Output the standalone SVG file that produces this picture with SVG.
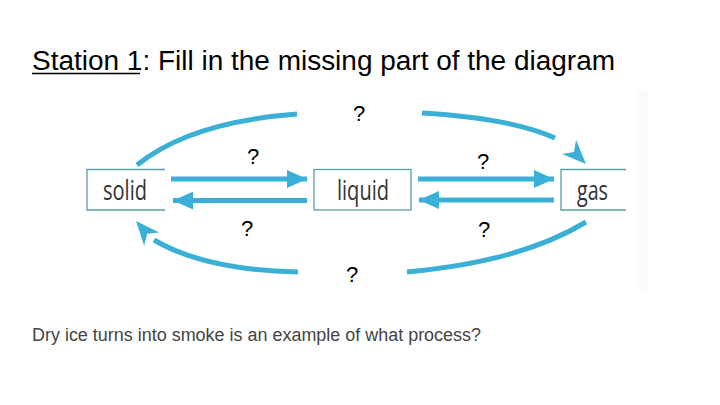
<svg xmlns="http://www.w3.org/2000/svg" width="720" height="405" viewBox="0 0 720 405">
<style>
.title{font-family:"Liberation Sans",Arial,sans-serif;font-size:27px;fill:#000}
.q{font-family:"Liberation Sans",Arial,sans-serif;font-size:22px;fill:#000;text-anchor:middle}
.lbl{font-family:"Open Sans","Noto Sans",sans-serif;font-size:28px;fill:#333}
.box{fill:none;stroke:#5b9ea6;stroke-width:1.3}
.arr{fill:none;stroke:#3ab0d6;stroke-width:5}
.cur{fill:none;stroke:#3ab0d6;stroke-width:5;stroke-linecap:butt}
.q2{font-family:"Liberation Sans",Arial,sans-serif;font-size:17.5px;fill:#444}
</style>
<defs>
<marker id="ah" markerUnits="userSpaceOnUse" markerWidth="20" markerHeight="18" viewBox="-18 -8 18 16" refX="0" refY="0" orient="auto">
<path d="M0,0 L-18,-8 L-18,8 Z" fill="#3ab0d6"/>
</marker>
<path id="barb" d="M0,0 L-24,-10 L-17,0 L-24,10 Z" fill="#3ab0d6"/>
</defs>
<rect width="720" height="405" fill="#fff"/>
<rect x="636" y="90" width="12" height="200" fill="#fbfbfb"/>
<text class="title" x="32" y="70" textLength="583" lengthAdjust="spacingAndGlyphs">Station 1: Fill in the missing part of the diagram</text>
<line x1="32" y1="73.5" x2="140" y2="73.5" stroke="#000" stroke-width="1.5"/>
<g id="solid">
<path class="box" d="M165,169.5 H87 V210 H165"/>
<text class="lbl" x="103" y="200" textLength="44" lengthAdjust="spacingAndGlyphs">solid</text>
</g>
<g id="liquid">
<rect class="box" x="314" y="169.5" width="97" height="40.5"/>
<text class="lbl" x="337" y="200" textLength="52" lengthAdjust="spacingAndGlyphs">liquid</text>
</g>
<g id="gas">
<path class="box" d="M626,169.5 H561 V210 H626"/>
<text class="lbl" x="577" y="200" textLength="31" lengthAdjust="spacingAndGlyphs">gas</text>
</g>
<g id="connectors">
<line class="arr" x1="171" y1="179" x2="307" y2="179" marker-end="url(#ah)"/>
<line class="arr" x1="307" y1="200.5" x2="173" y2="200.5" marker-end="url(#ah)"/>
<line class="arr" x1="418" y1="179" x2="554" y2="179" marker-end="url(#ah)"/>
<line class="arr" x1="554" y1="200" x2="419" y2="200" marker-end="url(#ah)"/>
<path class="cur" d="M137,165 Q190,122 297,114"/>
<path class="cur" d="M422,113 Q510,118 555,138"/>
<use href="#barb" transform="translate(586,164) rotate(45)"/>
<path class="cur" d="M298,272 Q205,270 154,240"/>
<use href="#barb" transform="translate(136,221) rotate(229)"/>
<path class="cur" d="M407,272 Q520,262 586,222"/>
</g>
<g id="labels">
<text class="q" x="359" y="121">?</text>
<text class="q" x="253" y="164">?</text>
<text class="q" x="483" y="169">?</text>
<text class="q" x="247" y="236">?</text>
<text class="q" x="484" y="237">?</text>
<text class="q" x="352" y="282">?</text>
</g>
<text class="q2" x="32" y="341" textLength="449" lengthAdjust="spacingAndGlyphs">Dry ice turns into smoke is an example of what process?</text>
</svg>
